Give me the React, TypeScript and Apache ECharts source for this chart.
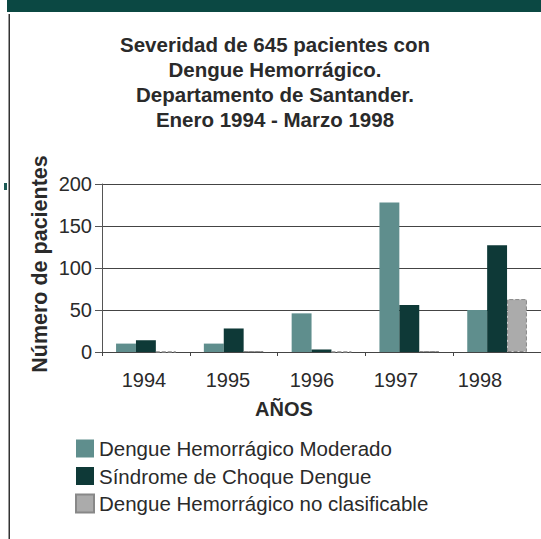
import React, { useEffect, useRef } from "react";
import * as echarts from "echarts";

const years = ["1994", "1995", "1996", "1997", "1998"];
const seriesNames = [
  "Dengue Hemorrágico Moderado",
  "Síndrome de Choque Dengue",
  "Dengue Hemorrágico no clasificable",
];
const moderado = [10, 10, 46, 178, 50];
const choque = [14, 28, 3, 56, 127];
const noClasificable = [0, 1, 0, 1, 63];
const yTicks = [0, 50, 100, 150, 200];
const titleLines = [
  "Severidad de 645 pacientes con",
  "Dengue Hemorrágico.",
  "Departamento de Santander.",
  "Enero 1994 - Marzo 1998",
];
const xAxisTitle = "AÑOS";
const yAxisTitle = "Número de pacientes";

const FONT = "'Liberation Sans', Arial, Helvetica, sans-serif";
const colors = ["#5f8e8d", "#0e3937", "#ababab"];

export default function App() {
  const ref = useRef<HTMLDivElement>(null);
  useEffect(() => {
    if (!ref.current) return;
    const chart = echarts.init(ref.current, undefined, { renderer: "svg" });
    const values = [moderado, choque, noClasificable];
    chart.setOption({
      animation: false,
      backgroundColor: "#ffffff",
      textStyle: { fontFamily: FONT },
      grid: [
        { left: 102, top: 184, width: 443, height: 168 },
        { left: 102, top: 184, width: 420, height: 168 },
      ],
      legend: {
        orient: "vertical",
        left: 70,
        top: 433,
        itemWidth: 18,
        itemHeight: 18,
        itemGap: 6.5,
        icon: "rect",
        textStyle: {
          fontFamily: FONT,
          fontSize: 20.5,
          color: "#2a2a2a",
        },
        data: seriesNames,
      },
      xAxis: [
        {
          type: "category",
          gridIndex: 0,
          data: years,
          axisLine: { show: true, lineStyle: { color: "#444", width: 1 } },
          axisTick: { show: true, length: 4, lineStyle: { color: "#444" } },
          axisLabel: { show: false },
        },
        {
          type: "category",
          gridIndex: 1,
          data: years,
          axisLine: { show: false },
          axisTick: { show: false },
          axisLabel: {
            show: true,
            fontFamily: FONT,
            fontSize: 20,
            color: "#2a2a2a",
            margin: 18,
          },
          splitLine: { show: false },
        },
      ],
      yAxis: [
        {
          type: "value",
          gridIndex: 0,
          min: 0,
          max: 200,
          interval: 50,
          axisLine: { show: true, lineStyle: { color: "#555", width: 1 } },
          axisTick: { show: true, length: 7, lineStyle: { color: "#555" } },
          axisLabel: {
            fontFamily: FONT,
            fontSize: 20,
            color: "#2a2a2a",
            margin: 10,
            formatter: (v: number) => (yTicks.includes(v) ? String(v) : ""),
          },
          splitLine: { show: true, lineStyle: { color: "#444", width: 1 } },
        },
        {
          type: "value",
          gridIndex: 1,
          min: 0,
          max: 200,
          show: false,
        },
      ],
      series: values.map((v, i) => ({
        name: seriesNames[i],
        type: "bar",
        xAxisIndex: 0,
        yAxisIndex: 0,
        data: v,
        barGap: "0%",
        barCategoryGap: "32%",
        itemStyle: {
          color: colors[i],
          borderColor: i === 2 ? "#888" : undefined,
          borderWidth: i === 2 ? 1 : 0,
          borderType: i === 2 ? "dashed" : "solid",
        },
      })),
      graphic: [
        {
          type: "rect",
          shape: { x: 7, y: 0, width: 534, height: 12 },
          style: { fill: "#0b4843" },
        },
        {
          type: "rect",
          shape: { x: 8.5, y: 14, width: 1.5, height: 525 },
          style: { fill: "#333" },
        },
        {
          type: "rect",
          shape: { x: 4, y: 183, width: 3, height: 7 },
          style: { fill: "#1c5a55" },
        },
        {
          type: "text",
          x: 275,
          y: 82,
          style: {
            text: titleLines.join("\n"),
            font: `bold 20.5px ${FONT}`,
            fill: "#2a2a2a",
            align: "center",
            verticalAlign: "middle",
            lineHeight: 25.3,
          },
        },
        {
          type: "text",
          x: 40,
          y: 264,
          rotation: Math.PI / 2,
          style: {
            text: yAxisTitle,
            font: `bold 21.5px ${FONT}`,
            fill: "#2a2a2a",
            align: "center",
            verticalAlign: "middle",
          },
        },
        {
          type: "text",
          x: 284,
          y: 409,
          style: {
            text: xAxisTitle,
            font: `bold 20px ${FONT}`,
            fill: "#2a2a2a",
            align: "center",
            verticalAlign: "middle",
          },
        },
      ],
    });
    return () => chart.dispose();
  }, []);
  return (
    <div
      ref={ref}
      style={{ position: "fixed", left: 0, top: 0, width: 541, height: 539 }}
    />
  );
}
